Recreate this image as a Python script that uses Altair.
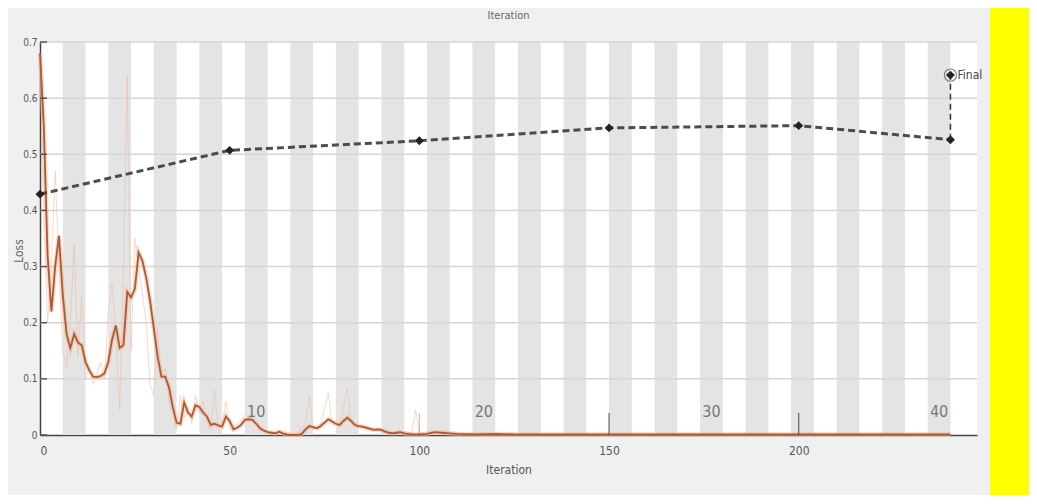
import altair as alt
import pandas as pd

# ---------------- data ----------------
iters_per_epoch = 6
n_epochs = 40
max_iter = 247

# smoothed training loss
smooth_iter = [0, 1, 2, 3, 4, 5, 6, 7, 8, 9, 10, 11, 12, 13, 14, 15, 16, 17, 18, 19,
               20, 21, 22, 23, 24, 25, 26, 27, 28, 29, 30, 31, 32, 33, 34, 35, 36, 37, 38, 39,
               40, 41, 42, 43, 44, 45, 46, 47, 48, 49, 50, 51, 52, 53, 54, 55, 56, 57, 58, 59,
               60, 61, 62, 63, 64, 65, 66, 67, 68, 69, 70, 71, 72, 73, 74, 75, 76, 77, 78, 79,
               80, 81, 82, 83, 84, 85, 86, 87, 88, 89, 90, 91, 92, 93, 94, 95, 96, 97, 98, 100,
               102, 104, 106, 108, 110, 115, 120, 125, 130, 140, 150, 160, 170, 180, 190, 200,
               210, 220, 230, 240]
smooth_loss = [0.68, 0.55, 0.32, 0.22, 0.30, 0.355, 0.25, 0.18, 0.155, 0.18, 0.165, 0.16, 0.13, 0.115, 0.104, 0.103, 0.105, 0.11, 0.13, 0.17,
               0.195, 0.155, 0.16, 0.255, 0.245, 0.26, 0.325, 0.31, 0.28, 0.24, 0.19, 0.14, 0.104, 0.104, 0.085, 0.05, 0.022, 0.02, 0.058, 0.04,
               0.033, 0.053, 0.05, 0.04, 0.033, 0.018, 0.02, 0.017, 0.015, 0.033, 0.025, 0.01, 0.013, 0.018, 0.027, 0.028, 0.027, 0.02, 0.012, 0.008,
               0.005, 0.004, 0.003, 0.006, 0.003, 0.001, 0.0, 0.0, 0.0, 0.002, 0.01, 0.016, 0.014, 0.012, 0.016, 0.022, 0.028, 0.024, 0.02, 0.018,
               0.025, 0.031, 0.025, 0.018, 0.016, 0.015, 0.013, 0.011, 0.009, 0.01, 0.009, 0.006, 0.004, 0.003, 0.004, 0.005, 0.003, 0.002, 0.001, 0.001,
               0.002, 0.005, 0.004, 0.003, 0.002, 0.001, 0.002, 0.001, 0.001, 0.001, 0.001, 0.001, 0.001, 0.001, 0.001, 0.001,
               0.001, 0.001, 0.001, 0.001]

# raw (unsmoothed) training loss, faint line
raw_iter = [0, 1, 2, 3, 4, 5, 6, 7, 8, 9, 10, 11, 12, 13, 14, 15, 16, 17, 18, 19,
            20, 21, 22, 23, 24, 25, 26, 27, 28, 29, 30, 31, 32, 33, 34, 35, 36, 37, 38, 39,
            40, 41, 42, 43, 44, 45, 46, 47, 48, 49, 50, 52, 54, 56, 58, 60, 62, 64, 66, 68,
            70, 71, 72, 74, 76, 77, 79, 81, 82, 84, 86, 88, 90, 92, 94, 96, 98, 99, 100, 102,
            104, 106, 110, 120, 130, 140, 150, 160, 170, 180, 190, 200, 210, 220, 230, 240]
raw_loss = [0.68, 0.38, 0.20, 0.30, 0.47, 0.30, 0.15, 0.12, 0.20, 0.34, 0.14, 0.25, 0.10, 0.12, 0.09, 0.11, 0.13, 0.10, 0.22, 0.27,
            0.18, 0.045, 0.30, 0.64, 0.15, 0.35, 0.30, 0.25, 0.20, 0.09, 0.07, 0.19, 0.10, 0.12, 0.06, 0.04, 0.01, 0.07, 0.03, 0.05,
            0.02, 0.07, 0.04, 0.06, 0.02, 0.01, 0.08, 0.01, 0.02, 0.06, 0.01, 0.02, 0.035, 0.03, 0.01, 0.005, 0.002, 0.008, 0.0, 0.003,
            0.02, 0.068, 0.01, 0.02, 0.075, 0.02, 0.015, 0.083, 0.02, 0.015, 0.01, 0.012, 0.005, 0.004, 0.002, 0.006, 0.003, 0.045, 0.002, 0.006,
            0.004, 0.003, 0.002, 0.002, 0.001, 0.002, 0.001, 0.001, 0.002, 0.001, 0.001, 0.001, 0.001, 0.001, 0.001, 0.001]

# validation loss (dashed black)
val_iter = [0, 50, 100, 150, 200, 240]
val_loss = [0.429, 0.507, 0.524, 0.547, 0.551, 0.526]

final_iter = [240]
final_loss = [0.641]
final_label = ["Final"]

epoch_labels = ["10", "20", "30", "40"]
epoch_label_iter = [57, 117, 177, 237]

y_grid = [0.1, 0.2, 0.3, 0.4, 0.5, 0.6, 0.7]
y_ticks = [0.0, 0.1, 0.2, 0.3, 0.4, 0.5, 0.6, 0.7]
x_ticks = [0, 50, 100, 150, 200]
x_tick_strength = [0.0, 0.0, 0.35, 0.9, 0.9]

# ---------------- frames ----------------
band_start = [iters_per_epoch * k for k in range(1, n_epochs, 2)]
bands = pd.DataFrame({"s": band_start, "e": [b + iters_per_epoch for b in band_start]})
smooth = pd.DataFrame({"it": smooth_iter, "loss": smooth_loss})
raw = pd.DataFrame({"it": raw_iter, "loss": raw_loss})
val = pd.DataFrame({"it": val_iter, "loss": val_loss})
final = pd.DataFrame({"it": final_iter, "loss": final_loss, "lab": final_label})
final_seg = pd.DataFrame({"it": final_iter, "lo": [val_loss[-1]], "hi": final_loss})
epochs = pd.DataFrame({"it": epoch_label_iter, "lab": epoch_labels})
grid = pd.DataFrame({"v": y_grid})
yt = pd.DataFrame({"v": y_ticks})
xt = pd.DataFrame({"v": x_ticks, "o": x_tick_strength})

W, H = 937, 393
FONT = "Liberation Sans Narrow, DejaVu Sans Condensed, Roboto Condensed, Arial Narrow, sans-serif"

xs = alt.Scale(domain=[0, max_iter], nice=False, zero=False)
ys = alt.Scale(domain=[0, 0.7], nice=False)

X = alt.X("it:Q", scale=xs, title="Iteration",
          axis=alt.Axis(values=x_ticks, grid=False, tickSize=0, labelPadding=10,
                        labelFont=FONT, labelFontSize=12, labelColor="#555",
                        domainColor="#444", domainWidth=1.5,
                        titleFont=FONT, titleFontSize=12, titleFontWeight="normal",
                        titleColor="#555", titlePadding=8))
Y = alt.Y("loss:Q", scale=ys, title="Loss",
          axis=alt.Axis(values=y_ticks, format="~g", grid=False, tickSize=0, labelPadding=3,
                        labelFont=FONT, labelFontSize=10, labelColor="#555",
                        domainColor="#444", domainWidth=1.5,
                        titleFont=FONT, titleFontSize=12, titleFontWeight="normal",
                        titleColor="#666", titleX=-22, titleY=H / 2 + 12,
                        titleAngle=270, titleBaseline="middle", titleAlign="center"))

band_layer = alt.Chart(bands).mark_rect(color="#e4e4e4").encode(
    x=alt.X("s:Q", scale=xs), x2="e:Q")
grid_layer = alt.Chart(grid).mark_rule(color="#d6d6d6", strokeWidth=1.5).encode(
    y=alt.Y("v:Q", scale=ys))
ytick_layer = alt.Chart(yt).mark_rule(color="#555", strokeWidth=1.5).encode(
    y=alt.Y("v:Q", scale=ys), x=alt.value(0), x2=alt.value(7))
xtick_layer = alt.Chart(xt).mark_rule(color="#555", strokeWidth=1.2).encode(
    x=alt.X("v:Q", scale=xs), y=alt.value(H), y2=alt.value(H - 22),
    opacity=alt.Opacity("o:Q", scale=None, legend=None))

raw_layer = alt.Chart(raw).mark_line(color="#f0b896", strokeWidth=1, opacity=0.5).encode(
    x=X, y=Y)
smooth_glow = alt.Chart(smooth).mark_line(color="#f7b58e", strokeWidth=4.5, opacity=0.55).encode(
    x=alt.X("it:Q", scale=xs), y=alt.Y("loss:Q", scale=ys))
smooth_layer = alt.Chart(smooth).mark_line(color="#a85b3a", strokeWidth=1.8).encode(
    x=alt.X("it:Q", scale=xs), y=alt.Y("loss:Q", scale=ys))

val_line = alt.Chart(val).mark_line(color="#3a3a3a", strokeWidth=3, strokeDash=[7, 4], opacity=0.9).encode(
    x=alt.X("it:Q", scale=xs), y=alt.Y("loss:Q", scale=ys))
val_pts = alt.Chart(val).mark_point(shape="diamond", filled=True, color="#222", size=80, opacity=1).encode(
    x=alt.X("it:Q", scale=xs), y=alt.Y("loss:Q", scale=ys))

final_rule = alt.Chart(final_seg).mark_rule(color="#333", strokeWidth=1.5, strokeDash=[6, 4]).encode(
    x=alt.X("it:Q", scale=xs), y=alt.Y("lo:Q", scale=ys), y2="hi:Q")
final_ring = alt.Chart(final).mark_point(shape="circle", filled=False, color="#555", size=150, strokeWidth=1.2).encode(
    x=alt.X("it:Q", scale=xs), y=alt.Y("loss:Q", scale=ys))
final_dot = alt.Chart(final).mark_point(shape="diamond", filled=True, color="#222", size=80, opacity=1).encode(
    x=alt.X("it:Q", scale=xs), y=alt.Y("loss:Q", scale=ys))
final_text = alt.Chart(final).mark_text(align="left", dx=7, font=FONT, fontSize=12, color="#444").encode(
    x=alt.X("it:Q", scale=xs), y=alt.Y("loss:Q", scale=ys), text="lab:N")

epoch_text = alt.Chart(epochs).mark_text(font=FONT, fontSize=16, color="#777", baseline="middle").encode(
    x=alt.X("it:Q", scale=xs), y=alt.value(H - 23), text="lab:N")

top_title = alt.Chart(pd.DataFrame({"t": ["Iteration"]})).mark_text(
    font=FONT, fontSize=11, color="#666", baseline="bottom").encode(
    x=alt.value(W / 2), y=alt.value(-21), text="t:N")

yellow = alt.Chart(pd.DataFrame({"k": [1]})).mark_rect(color="#ffff00").encode(
    x=alt.value(950), x2=alt.value(989), y=alt.value(-34), y2=alt.value(H + 60))

chart = alt.layer(
    band_layer, grid_layer, raw_layer, smooth_glow, smooth_layer, xtick_layer, ytick_layer,
    val_line, val_pts, final_rule, final_ring, final_dot, final_text, epoch_text,
    top_title, yellow
).properties(
    width=W, height=H,
    autosize=alt.AutoSizeParams(type="none"),
    padding={"left": 32, "top": 34, "right": 52, "bottom": 60},
    background="#f0f0f0",
).configure_view(fill="white", stroke=None)

chart.save("out.html", embed_options={"renderer": "svg", "actions": False})
